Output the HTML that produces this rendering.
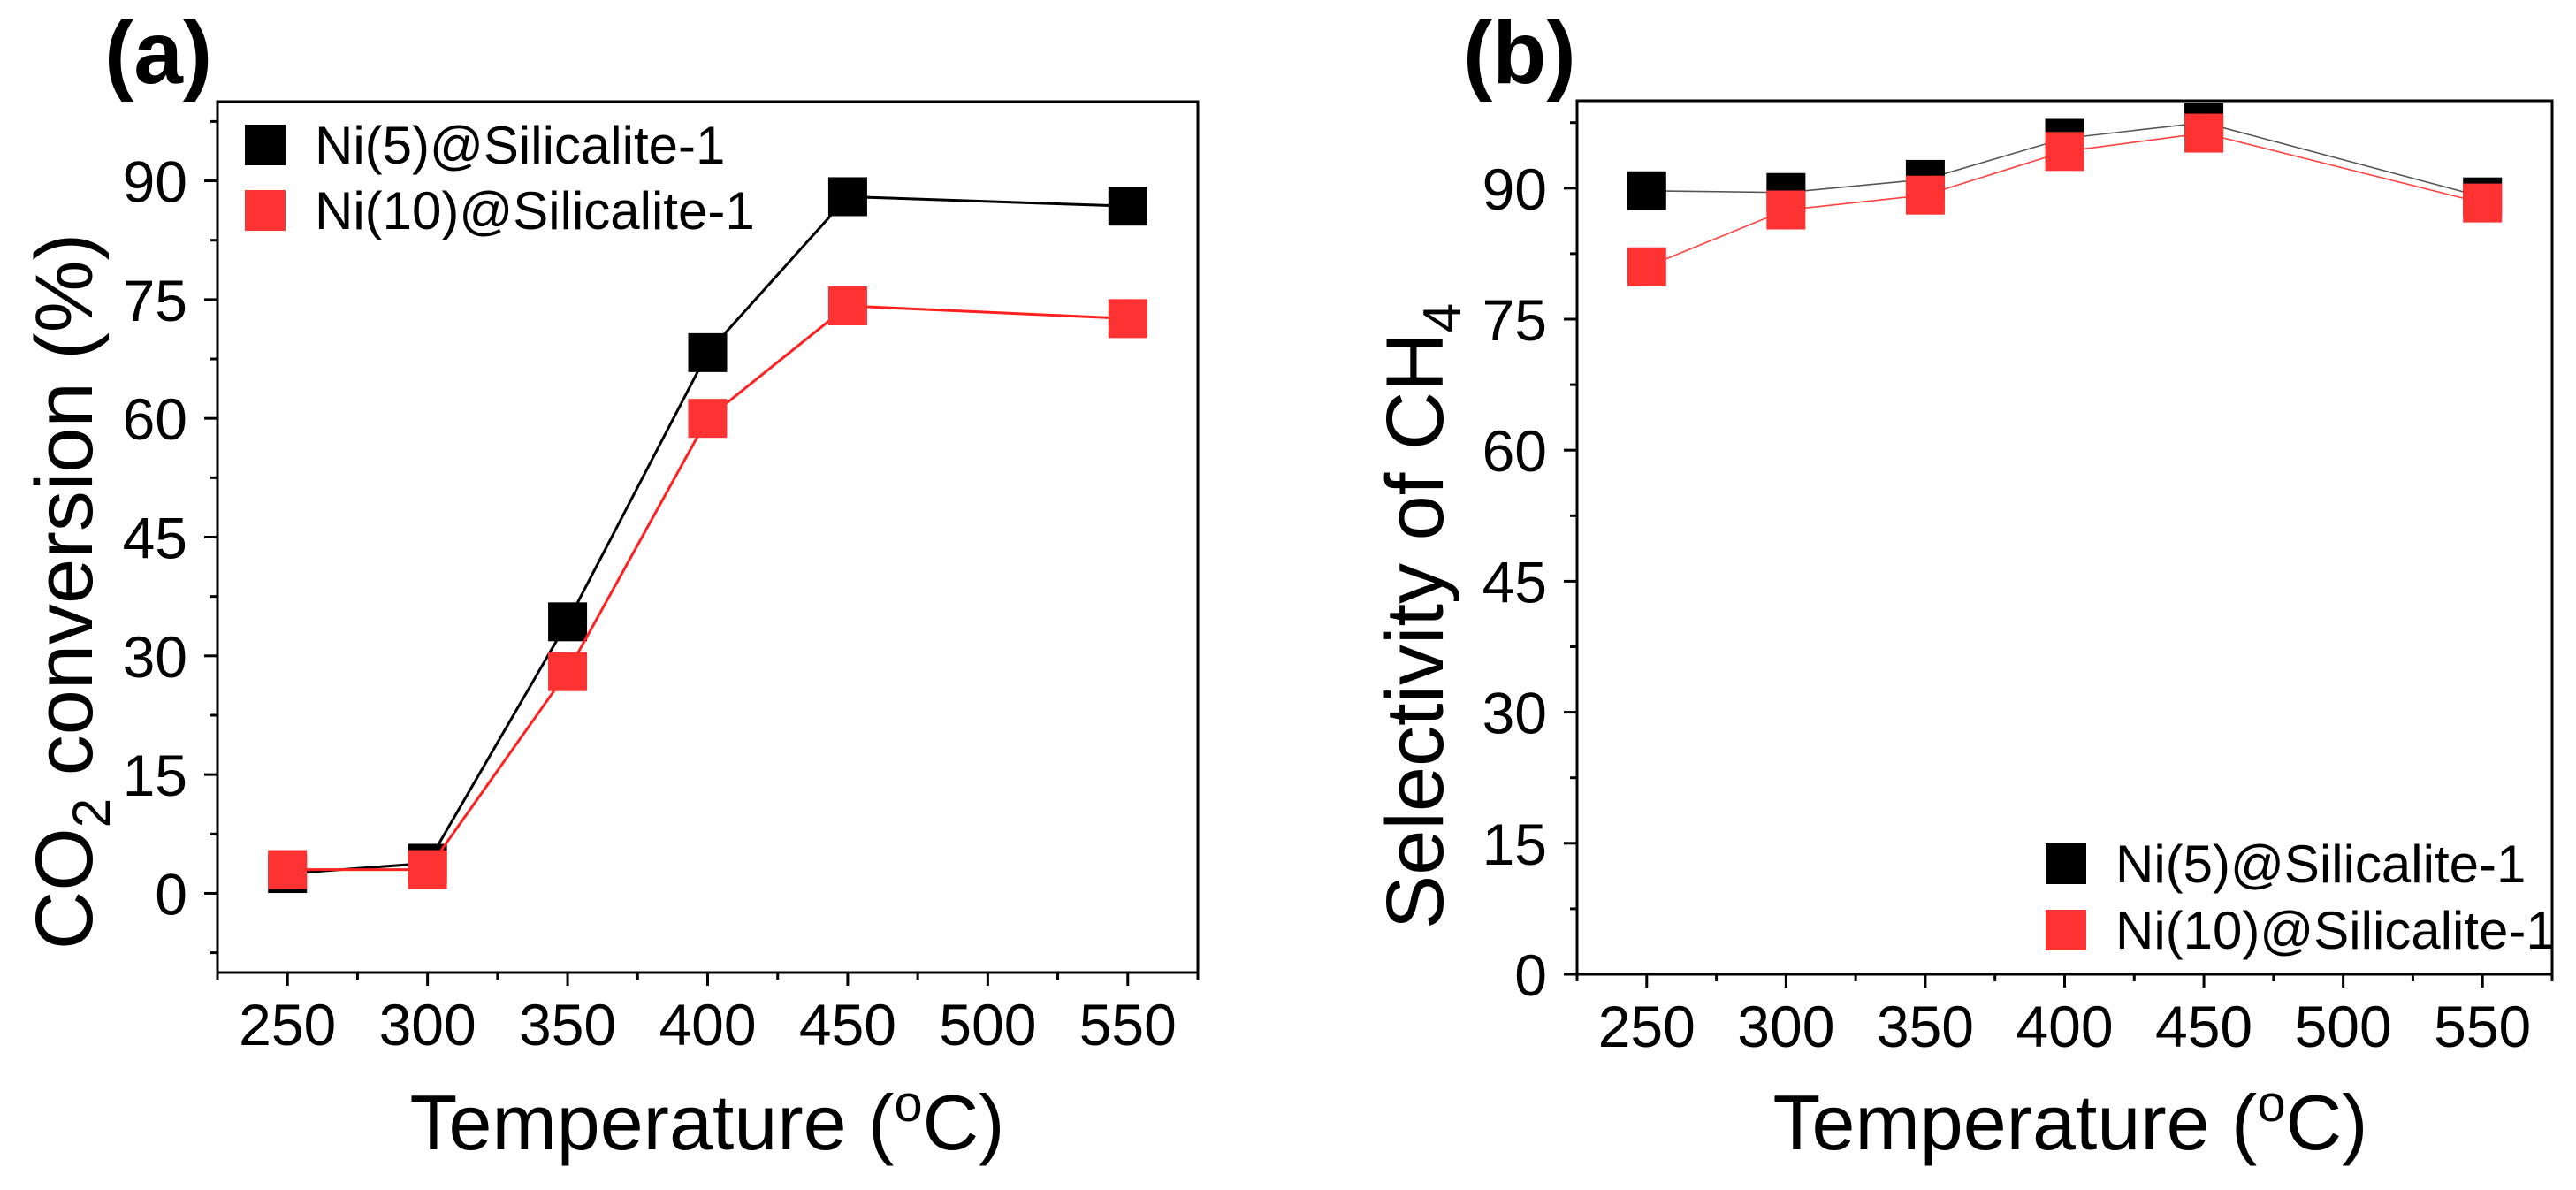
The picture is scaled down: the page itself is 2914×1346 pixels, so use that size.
<!DOCTYPE html>
<html><head><meta charset="utf-8"><style>
html,body{margin:0;padding:0;background:#fff;overflow:hidden;}
svg{display:block;font-family:"Liberation Sans",Arial,sans-serif;}
</style></head><body>
<svg id="svg" width="2914" height="1346" viewBox="0 0 2914 1346"></svg>
<script>
const temps = [250, 300, 350, 400, 450, 550];
const xTicks = [250, 300, 350, 400, 450, 500, 550];
const yTicks = [0, 15, 30, 45, 60, 75, 90];
const seriesNames = ["Ni(5)@Silicalite-1", "Ni(10)@Silicalite-1"];
const convNi5 = [2.5, 3.8, 34.3, 68.3, 88.0, 86.8];
const convNi10 = [3.0, 3.0, 28.0, 60.0, 74.2, 72.6];
const selNi5 = [89.7, 89.5, 91.0, 95.7, 97.5, 89.0];
const selNi10 = [81.0, 87.5, 89.2, 94.2, 96.3, 88.3];

const NS = "http://www.w3.org/2000/svg";
const svg = document.getElementById('svg');
function mk(tag, attrs, parent){
  const e = document.createElementNS(NS, tag);
  for (const k in attrs) e.setAttribute(k, attrs[k]);
  (parent||svg).appendChild(e); return e;
}
const fills = ["#000000", "#fd3333"];

function panel(cfg){
  const g = mk('g', {});
  
  
  const X = v => cfg.L + (v - 225) / 350 * (cfg.R - cfg.L);
  const Y = v => cfg.B - (v - cfg.ymin) / (100 - cfg.ymin) * (cfg.B - cfg.T);
  const fr = mk('rect', {x:cfg.L, y:cfg.T, width:cfg.R-cfg.L, height:cfg.B-cfg.T, fill:'none', stroke:'#000', 'stroke-width':3}, g);
  
  
  for (let v = 225; v <= 575; v += 25) {
    const major = xTicks.includes(v);
    const t = mk('line', {x1:X(v), x2:X(v), y1:cfg.B, y2:cfg.B + (major?15:8), stroke:'#000', 'stroke-width':3}, g);
    
    
  }
  xTicks.forEach(v => {
    const t = mk('text', {x:X(v), y:cfg.B+82, 'font-size':66, 'text-anchor':'middle'}, g);
    t.textContent = v;
    
    
  });
  for (let k = Math.ceil(cfg.ymin/7.5); k*7.5 <= 100; k++) {
    const v = k*7.5; const major = k % 2 === 0;
    const t = mk('line', {x1:cfg.L, x2:cfg.L-(major?15:8), y1:Y(v), y2:Y(v), stroke:'#000', 'stroke-width':3}, g);
    
    
  }
  yTicks.forEach(v => {
    const t = mk('text', {x:cfg.L-34, y:Y(v)+24, 'font-size':66, 'text-anchor':'end'}, g);
    t.textContent = v;
    
    
  });
  const xt = mk('text', {x:cfg.xtx, y:1300, 'font-size':88, 'text-anchor':'middle'}, g);
  xt.innerHTML = 'Temperature (<tspan dy="-32" font-size="58">o</tspan><tspan dy="32">C)</tspan>';
  
  
  const yt = mk('text', {x:0, y:0, 'font-size':92, 'text-anchor':'middle', transform:`translate(${cfg.ytx},${cfg.yty}) rotate(-90)`}, g);
  yt.innerHTML = cfg.ytitle;
  
  
  const pl = mk('text', {x:cfg.labX, y:94, 'font-size':100, 'font-weight':'bold'}, g);
  pl.textContent = cfg.label;
  
  
  cfg.data.forEach((arr, i) => {
    const sg = mk('g', {}, g);
    
    
    const pts = arr.map((v, j) => X(temps[j]) + ',' + Y(v)).join(' ');
    const ln = mk('polyline', {points:pts, fill:'none', stroke:cfg.lineColors[i], 'stroke-width':cfg.lw}, sg);
    
    
    arr.forEach((v, j) => {
      const m = mk('rect', {x:X(temps[j])-22, y:Y(v)-22, width:44, height:44, fill:fills[i]}, sg);
      
      
    });
  });
  const lg = mk('g', {}, g);
  
  
  seriesNames.forEach((n, i) => {
    const cy = cfg.legY + i*cfg.legGap;
    const s = mk('rect', {x:cfg.legX-23, y:cy-23, width:46, height:46, fill:fills[i]}, lg);
    
    
    const t = mk('text', {x:cfg.legX+56, y:cy+21, 'font-size':60}, lg);
    t.textContent = n;
    
    
  });
}

panel({name:'panel-a-co2-conversion', L:246, R:1355, T:115, B:1100, ymin:-10, lw:3,
  lineColors:['#000','#ff2020'],
  data:[convNi5, convNi10], ytx:104, yty:669, xtx:800, labX:118, label:'(a)',
  ytitle:'CO<tspan dy="20" font-size="60">2</tspan><tspan dy="-20"> conversion (%)</tspan>',
  legX:300, legY:164, legGap:74});
panel({name:'panel-b-ch4-selectivity', L:1784, R:2887, T:114, B:1102, ymin:0, lw:1.6,
  lineColors:['#555','#ff4040'],
  data:[selNi5, selNi10], ytx:1632, yty:697, xtx:2342, labX:1655, label:'(b)',
  ytitle:'Selectivity of CH<tspan dy="20" font-size="60">4</tspan>',
  legX:2337, legY:977, legGap:75});
</script>
</body></html>
